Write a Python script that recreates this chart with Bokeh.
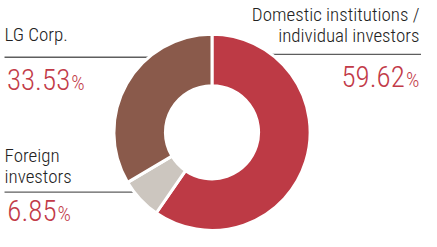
import math
from bokeh.plotting import figure
from bokeh.models import Range1d, ColumnDataSource
from bokeh.core.properties import value
from bokeh.embed import file_html
from bokeh.resources import INLINE

# ---- data (clockwise from 12 o'clock) ----
categories = ["Domestic institutions /\nindividual investors", "Foreign\ninvestors", "LG Corp."]
shares = [59.62, 6.85, 33.53]
colors = ["#BD3A45", "#CCC6BF", "#8A5A4B"]

FONT = "Roboto Condensed Light, Roboto Condensed, Liberation Sans Narrow, Roboto, sans-serif"
TXT = "#222222"
RED_TXT = "#C23A48"
RULE = "#5e5e5e"

W, H = 421, 231
sx, sy = 0.981, 0.95
x0, y0 = 7.9, 10.26
p = figure(width=W, height=H, output_backend="svg", toolbar_location=None,
           x_range=Range1d(x0, x0 + W / sx), y_range=Range1d(-(y0 + H / sy), -y0),
           min_border=0, outline_line_color=None)
p.axis.visible = False
p.grid.visible = False
p.background_fill_color = "white"
p.border_fill_color = "white"

# baseline correction for the renderer (text sits ~0.37em low)
def by(yy, fs):
    return -(yy - 0.37 * fs / sy)

# ---- leader rules (drawn first, donut covers their ends) ----
p.segment(x0=[284, 12, 12], y0=[-67, -70, -212], x1=[437, 162, 155], y1=[-67, -70, -212],
          line_color=RULE, line_width=1.4)

# ---- donut ----
cx, cy = 223.5, -149.0
total = sum(shares)
starts, ends = [], []
acc = 0.0
for v in shares:
    a0 = math.pi / 2 - 2 * math.pi * acc / total
    acc += v
    a1 = math.pi / 2 - 2 * math.pi * acc / total
    starts.append(a0)
    ends.append(a1)
src = ColumnDataSource(dict(start=starts, end=ends, color=colors))
p.annular_wedge(x=cx, y=cy, inner_radius=47.5, outer_radius=100.0,
                start_angle="start", end_angle="end", direction="clock",
                fill_color="color", line_color="white", line_width=3, source=src)

# ---- labels ----
LBL, NUM, PCT = 19, 29, 21

def label_lines(lines, x, ys, align):
    for t, yy in zip(lines, ys):
        p.text(x=[x], y=[by(yy, LBL)], text=[t], text_font=value(FONT),
               text_font_size=f"{LBL}px", text_color=TXT, text_align=align,
               text_baseline="alphabetic")

def pct(v, x_split, yy, pct_right=None):
    num = f"{v:.2f}"
    p.text(x=[x_split], y=[by(yy, NUM)], text=[num], text_font=value(FONT),
           text_font_size=f"{NUM}px", text_color=RED_TXT, text_align="right",
           text_baseline="alphabetic")
    px, al = (x_split + 1, "left") if pct_right is None else (pct_right, "right")
    p.text(x=[px], y=[by(yy, PCT)], text=["%"], text_font=value(FONT),
           text_font_size=f"{PCT}px", text_color=RED_TXT, text_align=al,
           text_baseline="alphabetic")

label_lines(categories[0].split("\n"), 435, [32, 54], "right")
pct(shares[0], 420, 102, pct_right=435)
label_lines(categories[2].split("\n"), 12, [53], "left")
pct(shares[2], 79, 105)
label_lines(categories[1].split("\n"), 12, [181, 203], "left")
pct(shares[1], 65, 243)

open("out.html", "w").write(file_html(p, INLINE))
